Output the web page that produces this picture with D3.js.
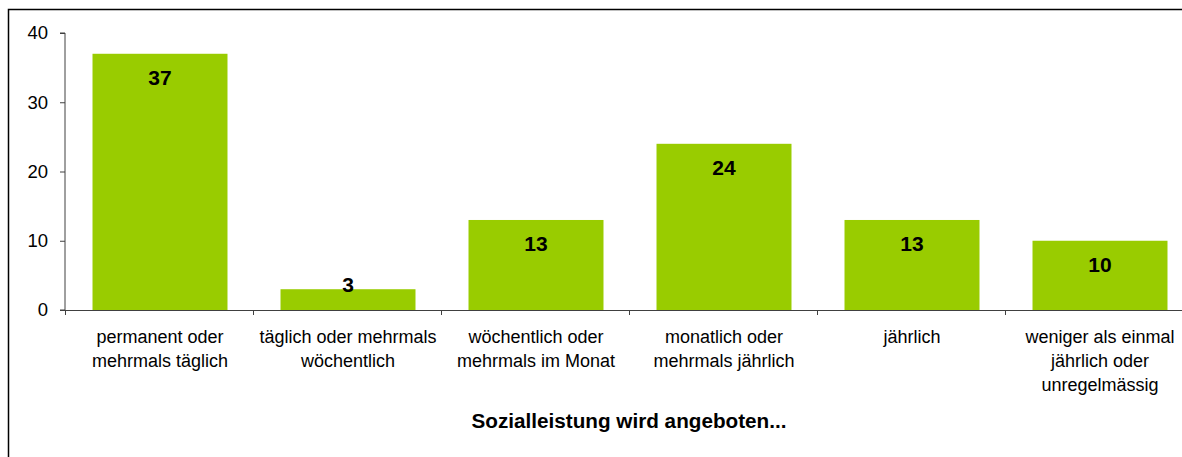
<!DOCTYPE html>
<html><head><meta charset="utf-8">
<script src="https://cdn.jsdelivr.net/npm/d3@7"></script>
<style>body{margin:0;background:#fff}svg{display:block}text{font-family:"Liberation Sans",Arial,sans-serif}</style>
</head><body>
<svg id="c" width="1182" height="457"></svg>
<script>
const categories = [
  ["permanent oder","mehrmals täglich"],
  ["täglich oder mehrmals","wöchentlich"],
  ["wöchentlich oder","mehrmals im Monat"],
  ["monatlich oder","mehrmals jährlich"],
  ["jährlich"],
  ["weniger als einmal","jährlich oder","unregelmässig"]
];
const values = [37, 3, 13, 24, 13, 10];
const yTicks = [0, 10, 20, 30, 40];
const axisTitle = "Sozialleistung wird angeboten...";

const svg = d3.select("#c");
svg.append("rect").attr("x",8.5).attr("y",9.5).attr("width",1200).attr("height",500)
  .attr("fill","none").attr("stroke","#000").attr("stroke-width",1.5);

const x0 = 65, x1 = 1193, yTop = 33, yBot = 310;
const x = d3.scaleBand().domain(d3.range(values.length)).range([x0, x1]).paddingInner(0.282).paddingOuter(0.141);
const y = d3.scaleLinear().domain([0, 40]).range([yBot, yTop]);

// bars
svg.selectAll("rect.bar").data(values).enter().append("rect").attr("class","bar")
  .attr("x",(d,i)=>x(i)+1).attr("width",x.bandwidth())
  .attr("y",d=>y(d)).attr("height",d=>y(0)-y(d)).attr("fill","#99CC00");

// y axis
const yAxis = d3.axisLeft(y).tickValues(yTicks).tickSize(5).tickPadding(12);
const gy = svg.append("g").attr("transform",`translate(${x0},0)`).call(yAxis);
gy.select(".domain").attr("stroke","#404040").attr("d",`M-5,${yTop}H0V${yBot}H-5`);
gy.selectAll(".tick line").attr("stroke","#404040");
gy.selectAll(".tick text").attr("font-size",18.5).attr("fill","#000").attr("font-family","Liberation Sans, Arial, sans-serif");

// x axis
const step = x.step();
const bounds = d3.range(values.length+1);
const gx = svg.append("g");
gx.append("line").attr("x1",x0).attr("x2",x1).attr("y1",yBot+0.5).attr("y2",yBot+0.5).attr("stroke","#404040");
gx.selectAll("line.t").data(bounds).enter().append("line").attr("class","t")
  .attr("x1",i=>x0+i*step+0.5).attr("x2",i=>x0+i*step+0.5).attr("y1",yBot).attr("y2",yBot+5).attr("stroke","#404040");
categories.forEach((lines,i)=>{
  const t = gx.append("text").attr("text-anchor","middle").attr("font-size",18).attr("fill","#000");
  lines.forEach((l,j)=>t.append("tspan").attr("x",x(i)+x.bandwidth()/2+1).attr("y",343+j*24).text(l));
});

// value labels
svg.selectAll("text.val").data(values).enter().append("text").attr("class","val")
  .attr("x",(d,i)=>x(i)+x.bandwidth()/2+1)
  .attr("y",d=>Math.min(y(d)+31, y(0)-18))
  .attr("text-anchor","middle").attr("font-size",21).attr("font-weight","bold").attr("fill","#000")
  .text(d=>d);

svg.append("text").attr("x",(x0+x1)/2).attr("y",428).attr("text-anchor","middle")
  .attr("font-size",20.7).attr("font-weight","bold").attr("fill","#000").text(axisTitle);
</script>
</body></html>
